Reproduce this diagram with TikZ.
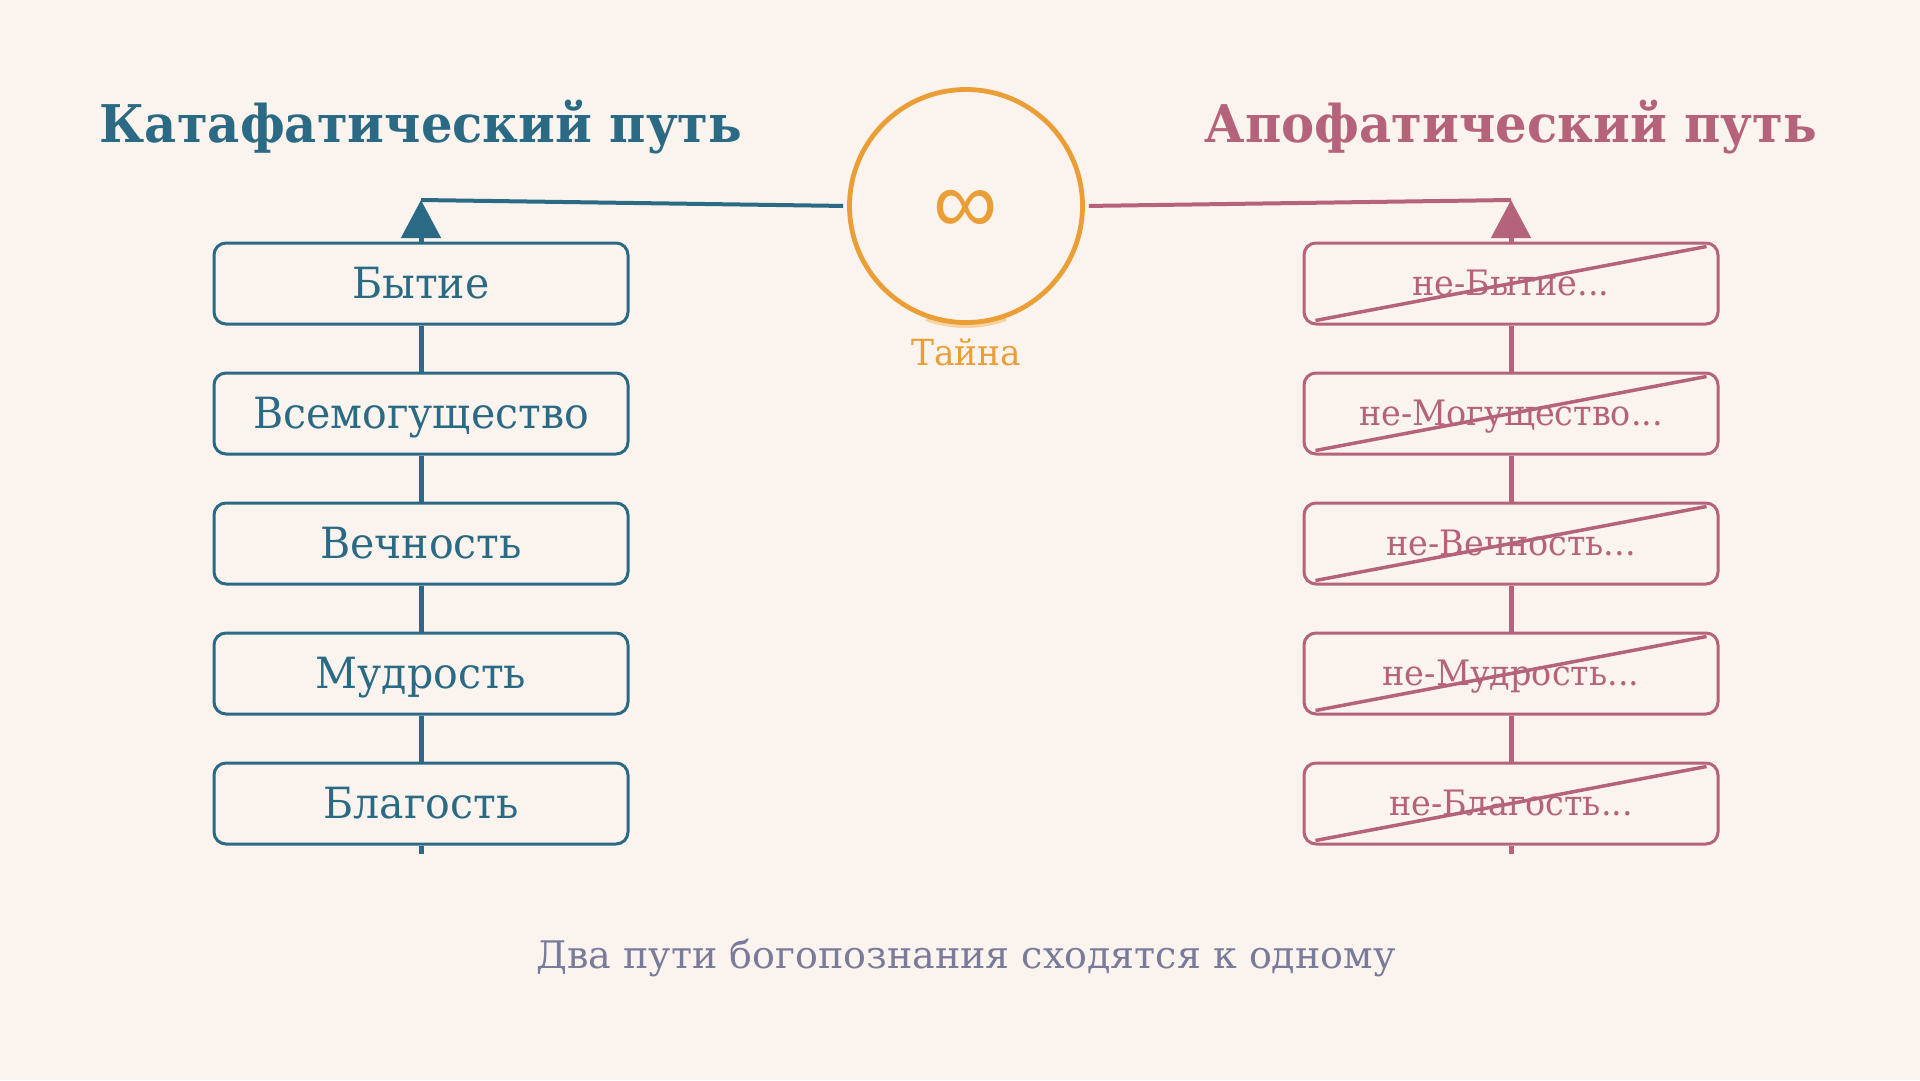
\documentclass[tikz,border=0pt]{standalone}
\usepackage{fontspec}
\setmainfont{DejaVu Serif}[FakeStretch=0.955]
\newfontfamily\capfont{DejaVu Serif}
\newfontfamily\symfont{Liberation Sans}
\usetikzlibrary{arrows.meta}
\definecolor{bg}{HTML}{FBF4EE}
\definecolor{cblue}{HTML}{2B6A84}
\definecolor{cpink}{HTML}{B5637A}
\definecolor{corange}{HTML}{EA9E35}
\definecolor{cgray}{HTML}{7A7A9A}
\begin{document}
\begin{tikzpicture}[x=1pt,y=-1pt,
  lbox/.style={draw=cblue, line width=3pt, rounded corners=12pt, fill=bg,
    minimum width=414pt, minimum height=81pt, inner sep=0pt, text=cblue,
    font=\fontsize{43}{50}\selectfont, text height=31pt, text depth=2pt},
  rbox/.style={draw=cpink, line width=3pt, rounded corners=12pt, fill=bg,
    minimum width=414pt, minimum height=81pt, inner sep=0pt, text=cpink,
    font=\fontsize{35}{42}\selectfont, text height=25pt, text depth=2pt},
  lline/.style={draw=cblue, line width=5pt},
  rline/.style={draw=cpink, line width=5pt},
  strike/.style={draw=cpink, line width=3.5pt},
  title/.style={anchor=base, font=\bfseries\fontsize{52}{60}\selectfont}
]
\fill[bg] (0,0) rectangle (1920,1080);
\useasboundingbox (0,0) rectangle (1920,1080);

% titles
\node[title, text=cblue] (ltitle) at (421,142) {Катафатический путь};
\node[title, text=cpink] (rtitle) at (1511,142) {Апофатический путь};

% centre circle
\draw[corange!45, line width=4pt] (966,209) ++(70:117) arc[start angle=70, end angle=110, radius=117];
\node[circle, draw=corange, line width=4.8pt, minimum size=233pt, inner sep=0pt] (myst) at (966,206) {};
\node[text=corange, font=\symfont\fontsize{90}{100}\selectfont, inner sep=0pt] (inf) at (966,212) {∞};
\node[anchor=base, text=corange, font=\fontsize{36}{42}\selectfont] (tayna) at (966,365) {Тайна};

% tips and free ends
\coordinate (ltip) at (421,200);
\coordinate (rtip) at (1511,200);
\coordinate (lend) at (421,854);
\coordinate (rend) at (1511,854);

% left boxes
\node[lbox] (lb1) at (421,283.5) {Бытие};
\node[lbox] (lb2) at (421,413.5) {Всемогущество};
\node[lbox] (lb3) at (421,543.5) {Вечность};
\node[lbox] (lb4) at (421,673.5) {Мудрость};
\node[lbox] (lb5) at (421,803.5) {Благость};

% right boxes
\node[rbox] (rb1) at (1511,283.5) {не-Бытие...};
\node[rbox] (rb2) at (1511,413.5) {не-Могущество...};
\node[rbox] (rb3) at (1511,543.5) {не-Вечность...};
\node[rbox] (rb4) at (1511,673.5) {не-Мудрость...};
\node[rbox] (rb5) at (1511,803.5) {не-Благость...};

% vertical connectors
\draw[lline] (lend) -- (lb5.south);
\draw[lline] (lb5.north) -- (lb4.south);
\draw[lline] (lb4.north) -- (lb3.south);
\draw[lline] (lb3.north) -- (lb2.south);
\draw[lline] (lb2.north) -- (lb1.south);
\draw[lline, -{Triangle[width=39pt,length=38pt]}] (lb1.north) -- (ltip);
\draw[rline] (rend) -- (rb5.south);
\draw[rline] (rb5.north) -- (rb4.south);
\draw[rline] (rb4.north) -- (rb3.south);
\draw[rline] (rb3.north) -- (rb2.south);
\draw[rline] (rb2.north) -- (rb1.south);
\draw[rline, -{Triangle[width=39pt,length=38pt]}] (rb1.north) -- (rtip);

% links to the circle
\draw[cblue, line width=4pt, shorten <=4pt] (myst.west) -- (ltip);
\draw[cpink, line width=4pt, shorten <=4pt] (myst.east) -- (rtip);

% strike-through lines
\foreach \i in {1,...,5}{
  \draw[strike] ([xshift=13pt,yshift=5pt]rb\i.south west) -- ([xshift=-13pt,yshift=-5pt]rb\i.north east);
}

% caption
\node[anchor=base, text=cgray, font=\capfont\fontsize{38}{44}\selectfont] (caption) at (966,968) {Два пути богопознания сходятся к одному};
\end{tikzpicture}
\end{document}
